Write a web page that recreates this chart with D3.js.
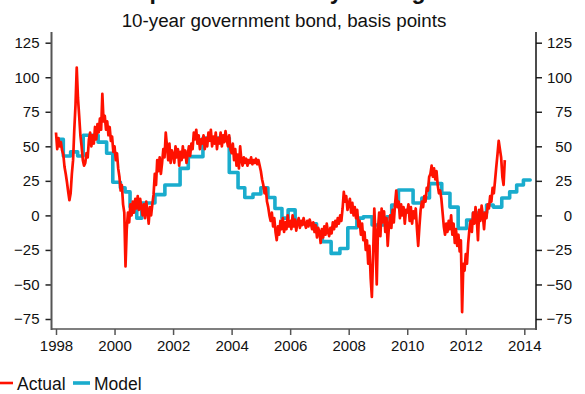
<!DOCTYPE html>
<html>
<head>
<meta charset="utf-8">
<script src="https://cdn.jsdelivr.net/npm/d3@7"></script>
<style>
  html, body { margin: 0; padding: 0; background: #fff; }
  svg { display: block; }
  text { font-family: "Liberation Sans", Arial, sans-serif; fill: #111; }
</style>
</head>
<body>
<svg id="chart" width="585" height="394"></svg>
<script>
// Spread, 10-year government bond (basis points)
const titleText = "Spread is currently too high";
const subtitleText = "10-year government bond, basis points";

// Actual spread, sampled twice a month from January 1998
const actualStart = 1998.0;
const actualStep = 1 / 24;
const actualValues = [
  // 1998
  60, 48, 56, 50, 53, 47, 44, 35, 30, 24, 17, 11, 16, 30, 40, 62, 80, 107, 85, 72, 58, 50, 40, 36,
  // 1999
  38, 45, 42, 55, 60, 50, 58, 52, 64, 55, 66, 60, 70, 62, 88, 68, 72, 62, 68, 58, 64, 54, 57, 46,
  // 2000
  50, 40, 45, 34, 28, 18, 22, 8, 2, -37, -10, 2, -5, 8, 0, 10, 2, 12, 5, 14, 4, 12, 6, 0,
  // 2001
  8, -2, 10, 3, -6, 6, 0, 8, 15, 30, 22, 40, 32, 42, 30, 38, 48, 42, 60, 50, 40, 52, 38, 47,
  // 2002
  44, 38, 50, 42, 48, 36, 46, 40, 50, 42, 47, 38, 44, 50, 43, 52, 48, 60, 55, 62, 52, 58, 48, 55,
  // 2003
  52, 58, 48, 56, 50, 60, 54, 62, 50, 57, 52, 60, 48, 56, 52, 60, 50, 58, 53, 61, 55, 50, 58, 48,
  // 2004
  45, 52, 40, 48, 36, 44, 34, 50, 40, 36, 42, 38, 41, 36, 40, 38, 42, 37, 40, 38, 41, 37, 40, 36,
  // 2005
  32, 26, 22, 16, 20, 10, 6, 0, -4, 2, -8, -2, -12, -18, -8, -14, -4, -10, -2, -12, -5, -10, 0, -8,
  // 2006
  -4, -10, 0, -8, -3, -11, -5, -2, -9, -4, -7, -2, -6, -9, -4, -8, -3, -6, -10, -5, -12, -7, -16, -9,
  // 2007
  -12, -20, -10, -16, -8, -14, -6, -12, -15, -9, -13, -5, -10, -4, -8, -2, -6, 0, -4, 5, 17, 10, 14, 4,
  // 2008
  8, 12, 2, 9, 0, 6, -2, 4, -8, -4, -14, -6, -18, -12, -25, -18, -35, -22, -45, -59, -30, 5, -15, -50,
  // 2009
  -10, 2, -15, 5, -5, 3, -12, -2, -22, -8, 0, -9, 4, -5, 8, 18, 6, 10, -2, 8, 0, 6, -6, 4,
  // 2010
  2, 8, -4, 6, -6, 3, -2, 5, -10, -22, -8, 4, 10, 6, 14, 10, 20, 18, 28, 30, 36, 28, 34, 26,
  // 2011
  32, 22, 16, 18, 12, 2, -8, -14, -6, -12, -4, -10, 0, -14, -6, -20, -10, -22, -14, -26, -18, -70, -35, -40,
  // 2012
  -28, -35, -20, -10, -4, -12, 2, -6, 6, -2, -18, 4, -4, 7, 0, -10, 2, -2, 8, 5, 14, 10, 20, 16,
  // 2013
  25, 35, 44, 54, 48, 42, 28, 22, 40
];

// Model estimate: step values, each held until the next date
const modelDates = [
  1998.08, 1998.25, 1998.5, 1998.74, 1998.93, 1999.44, 1999.73, 1999.94, 2000.2, 2000.36,
  2000.53, 2000.76, 2000.93, 2001.38, 2001.72, 2002.24, 2002.52, 2003.02, 2003.92, 2004.22,
  2004.45, 2004.73, 2005.0, 2005.24, 2005.48, 2005.72, 2005.93, 2006.17, 2006.9, 2007.1,
  2007.4, 2007.7, 2007.97, 2008.28, 2008.5, 2008.8, 2009.3, 2009.47, 2009.7, 2010.2,
  2010.5, 2010.76, 2011.18, 2011.46, 2011.74, 2012.03, 2012.26, 2012.71, 2012.94, 2013.23,
  2013.5, 2013.74, 2013.97, 2014.2
];
const modelValues = [
  55, 43, 46, 43, 58, 53, 45, 24, 20, 17,
  6, -2, 9, 15, 22, 34, 42.5, 56, 31, 20,
  13, 15.5, 20, 13, 5, -2, 4, -6, -12, -19,
  -27.5, -24, -9, -2, -1, -7, -1, 7.5, 18.4, 9,
  12.6, 23, 16, 6, -9.4, -3.3, 1.7, 7.5, 6, 12.6,
  17, 22, 25.6, 25.6
];

const yearTicks = [1998, 2000, 2002, 2004, 2006, 2008, 2010, 2012, 2014];
const valueTicks = [-75, -50, -25, 0, 25, 50, 75, 100, 125];

const seriesNames = ["Actual", "Model"];
const seriesColors = ["#ff1100", "#1aaccd"];

const actual = actualValues.map((v, i) => ({ t: actualStart + i * actualStep, v }));
const model = modelDates.map((t, i) => ({ t, v: modelValues[i] }));

const svg = d3.select("#chart");

const plot = { left: 51.5, right: 536, top: 32, bottom: 329 };

const x = d3.scaleLinear().domain([1998, 2014]).range([56, 524.3]);
const y = d3.scaleLinear().domain([-75, 125]).range([319, 42.7]);

// Title (runs off the top edge) and subtitle
svg.append("text")
  .attr("x", 287).attr("y", -1)
  .attr("text-anchor", "middle")
  .style("font-weight", "bold").style("font-size", "23px")
  .text(titleText);

svg.append("text")
  .attr("x", 284).attr("y", 26.5)
  .attr("text-anchor", "middle")
  .style("font-size", "18.8px")
  .text(subtitleText);

// Series
svg.append("path")
  .datum(model)
  .attr("fill", "none")
  .attr("stroke", seriesColors[1])
  .attr("stroke-width", 3.6)
  .attr("stroke-linejoin", "round")
  .attr("stroke-linecap", "round")
  .attr("d", d3.line().x(d => x(d.t)).y(d => y(d.v)).curve(d3.curveStepAfter));

svg.append("path")
  .datum(actual)
  .attr("fill", "none")
  .attr("stroke", seriesColors[0])
  .attr("stroke-width", 2.7)
  .attr("stroke-linejoin", "round")
  .attr("d", d3.line().x(d => x(d.t)).y(d => y(d.v)));

// Axes
const leftAxis = d3.axisLeft(y).tickValues(valueTicks).tickSize(6).tickPadding(6).tickSizeOuter(0);
const rightAxis = d3.axisRight(y).tickValues(valueTicks).tickSize(6).tickPadding(6).tickSizeOuter(0);
const bottomAxis = d3.axisBottom(x).tickValues(yearTicks).tickFormat(d3.format("d")).tickSize(6).tickPadding(5).tickSizeOuter(0);

function styleAxis(g) {
  g.select(".domain").remove();
  g.selectAll(".tick line").attr("stroke", "#222").attr("stroke-width", 1.5);
  g.selectAll(".tick text")
    .style("font-family", "'Liberation Sans', Arial, sans-serif")
    .style("font-size", "15px").attr("fill", "#111");
}

const gl = svg.append("g").attr("transform", `translate(${plot.left},0)`).call(leftAxis);
styleAxis(gl);
gl.selectAll(".tick text").attr("x", -12);

const gr = svg.append("g").attr("transform", `translate(${plot.right},0)`).call(rightAxis);
styleAxis(gr);
gr.selectAll(".tick text").attr("text-anchor", "end").attr("x", 36);

const gb = svg.append("g").attr("transform", `translate(0,${plot.bottom})`).call(bottomAxis);
styleAxis(gb);
gb.selectAll(".tick line").attr("stroke", "#555");
gb.selectAll(".tick text").attr("dy", "0.71em").attr("y", 11);

// Frame lines
svg.append("line")
  .attr("x1", plot.left).attr("x2", plot.left)
  .attr("y1", plot.top).attr("y2", plot.bottom + 1)
  .attr("stroke", "#555").attr("stroke-width", 2);
svg.append("line")
  .attr("x1", plot.right).attr("x2", plot.right)
  .attr("y1", plot.top).attr("y2", plot.bottom + 1)
  .attr("stroke", "#111").attr("stroke-width", 1.5);
svg.append("line")
  .attr("x1", plot.left).attr("x2", plot.right)
  .attr("y1", plot.bottom).attr("y2", plot.bottom)
  .attr("stroke", "#555").attr("stroke-width", 1.5);

// Legend
const legend = svg.append("g").attr("transform", "translate(0,383)");
const legendX = [0, 73];
seriesNames.forEach((name, i) => {
  const g = legend.append("g").attr("transform", `translate(${legendX[i]},0)`);
  g.append("line")
    .attr("x1", 0).attr("x2", i === 0 ? 13 : 17)
    .attr("stroke", seriesColors[i]).attr("stroke-width", i === 0 ? 2.6 : 3.6);
  g.append("text")
    .attr("x", i === 0 ? 17 : 21).attr("y", 6.5)
    .style("font-size", "17.5px")
    .text(name);
});
</script>
</body>
</html>
